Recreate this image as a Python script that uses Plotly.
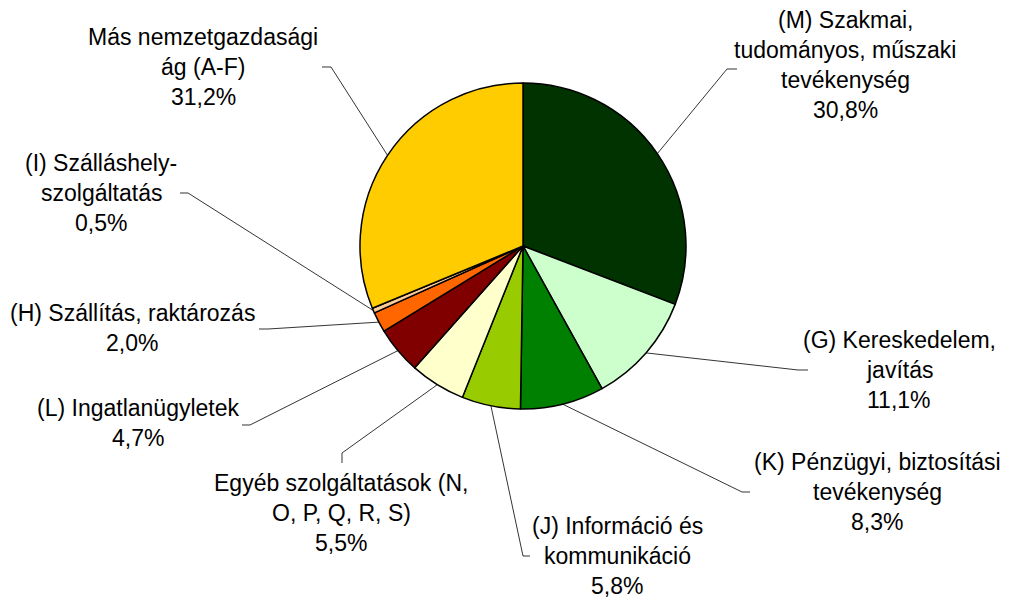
import math
import plotly.graph_objects as go

W, H = 1015, 598
OFF = 8  # page body margin

# data
names = [
    ["(M) Szakmai,", "tudományos, műszaki", "tevékenység"],
    ["(G) Kereskedelem,", "javítás"],
    ["(K) Pénzügyi, biztosítási", "tevékenység"],
    ["(J) Információ és", "kommunikáció"],
    ["Egyéb szolgáltatások (N,", "O, P, Q, R, S)"],
    ["(L) Ingatlanügyletek"],
    ["(H) Szállítás, raktározás"],
    ["(I) Szálláshely-", "szolgáltatás"],
    ["Más nemzetgazdasági", "ág (A-F)"],
]
values = [30.8, 11.1, 8.3, 5.8, 5.5, 4.7, 2.0, 0.5, 31.2]
colors = ["#003300", "#CCFFCC", "#008000", "#99CC00", "#FFFFCC",
          "#800000", "#FF6600", "#FFCC99", "#FFCC00"]

# label layout (pixels): text centre x, first line y, leader path after the pie edge point
text_pos = [(845, 20), (899, 340), (877, 462), (617, 526), (341, 483),
            (138, 408), (132, 313), (101, 163), (203, 37)]
leader = [
    [(727, 69), (737, 69)],
    [(798, 370), (808, 370)],
    [(742, 492), (750, 492)],
    [(523, 556), (530, 556)],
    [(342, 453), (342, 463)],
    [(250, 425), (242, 425)],
    [(268, 329), (259, 329)],
    [(188, 193), (180, 193)],
    [(331, 67), (322, 67)],
]
line_gap = 30

cx, cy, r = 523, 246, 163


def paper(px, py):
    return (px - OFF) / W, 1 - (py - OFF) / H


fig = go.Figure()
x0, y0 = paper(cx - r, cy + r)
x1, y1 = paper(cx + r, cy - r)
fig.add_trace(go.Pie(
    labels=[" ".join(n) for n in names], values=values,
    sort=False, direction="clockwise", rotation=0,
    marker=dict(colors=colors, line=dict(color="black", width=1.5)),
    textinfo="none", hoverinfo="label+percent", showlegend=False,
    domain=dict(x=[x0, x1], y=[y0, y1]),
))

total = sum(values)
cum = 0
shapes = []
annotations = []
for i, v in enumerate(values):
    mid = (cum + v / 2) / total * 2 * math.pi
    cum += v
    sx = cx + r * math.sin(mid)
    sy = cy - r * math.cos(mid)
    pts = [(sx, sy)] + leader[i]
    path = ""
    for j, (px, py) in enumerate(pts):
        qx, qy = paper(px, py)
        path += ("M" if j == 0 else " L") + f" {qx:.5f},{qy:.5f}"
    shapes.append(dict(type="path", path=path, xref="paper", yref="paper",
                       line=dict(color="#000000", width=0.8)))
    lines = names[i] + [f"{v:.1f}".replace(".", ",") + "%"]
    tx, ty = text_pos[i]
    for k, t in enumerate(lines):
        ax, ay = paper(tx, ty + k * line_gap)
        annotations.append(dict(x=ax, y=ay, xref="paper", yref="paper", text=t,
                                showarrow=False, xanchor="center", yanchor="middle",
                                font=dict(size=23, color="black")))

fig.update_layout(
    width=W, height=H,
    margin=dict(l=0, r=0, t=0, b=0),
    paper_bgcolor="white", plot_bgcolor="white",
    font=dict(family="Liberation Sans, Arial, sans-serif"),
    shapes=shapes, annotations=annotations,
)
fig.write_html("out.html")
